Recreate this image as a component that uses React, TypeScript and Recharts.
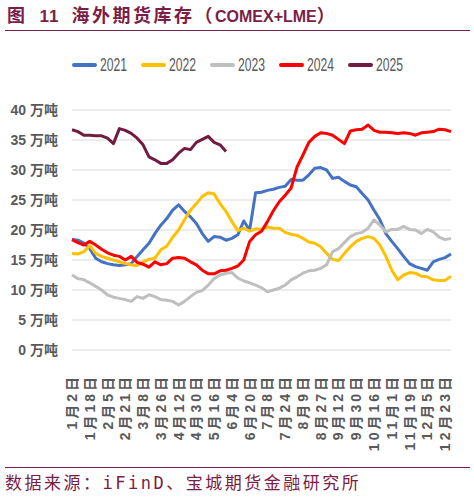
import React from "react";
import { LineChart, Line, XAxis, YAxis, CartesianGrid } from "recharts";

// trading-day buckets (about 3 per label step); only xTicks are printed
const categories = [
  "1月2日", "1月8日", "1月13日", "1月18日", "1月24日", "1月30日", "2月5日", "2月10日", "2月15日",
  "2月21日", "2月26日", "3月3日", "3月8日", "3月14日", "3月20日", "3月26日", "4月1日", "4月6日",
  "4月12日", "4月18日", "4月24日", "4月30日", "5月5日", "5月11日", "5月16日", "5月23日", "5月29日",
  "6月4日", "6月9日", "6月15日", "6月20日", "6月26日", "7月2日", "7月8日", "7月13日", "7月19日",
  "7月24日", "7月29日", "8月4日", "8月9日", "8月15日", "8月21日", "8月27日", "9月1日", "9月7日",
  "9月12日", "9月18日", "9月24日", "9月30日", "10月5日", "10月11日", "10月16日", "10月22日", "10月27日",
  "11月1日", "11月7日", "11月13日", "11月19日", "11月25日", "11月30日", "12月5日", "12月11日", "12月17日",
  "12月23日", "12月29日",
];

const xTicks = [
  "1月2日", "1月18日", "2月5日", "2月21日", "3月8日", "3月26日", "4月12日", "4月30日", "5月16日",
  "6月4日", "6月20日", "7月8日", "7月24日", "8月9日", "8月27日", "9月12日", "9月30日", "10月16日",
  "11月1日", "11月19日", "12月5日", "12月23日",
];

const yTicks = [0, 5, 10, 15, 20, 25, 30, 35, 40];

// 万吨
const s2021 = [
  18.4, 18.3, 17.8, 16.9, 15.3, 14.7, 14.4, 14.2, 14.1, 14.2, 14.4, 15.6, 16.7, 17.8, 19.4, 20.8,
  21.9, 23.3, 24.2, 23.1, 22.2, 21.1, 19.4, 18.1, 18.9, 18.8, 18.3, 18.6, 19.2, 21.5, 20.0, 26.2,
  26.3, 26.6, 26.8, 27.1, 27.3, 28.4, 28.3, 28.3, 29.2, 30.3, 30.4, 30.0, 28.6, 28.8, 28.1, 27.5,
  27.2, 26.1, 25.0, 23.3, 21.7, 19.4, 18.1, 16.9, 15.6, 14.4, 13.9, 13.6, 13.3, 14.7, 15.1, 15.4,
  16.0,
];
const s2022 = [
  16.1, 16.0, 16.4, 17.4, 16.1, 15.6, 15.3, 15.0, 14.7, 14.4, 14.2, 14.1, 14.7, 15.1, 15.3, 16.7,
  17.3, 18.8, 20.0, 21.7, 23.3, 24.4, 25.6, 26.2, 26.0, 24.4, 23.1, 21.4, 19.9, 20.3, 19.8, 20.2,
  20.1, 20.5, 20.3, 20.3, 19.6, 19.3, 19.1, 18.6, 18.0, 17.8, 17.2, 16.1, 15.1, 14.9, 16.1, 17.2,
  18.1, 18.6, 18.9, 18.6, 17.5, 15.6, 13.3, 11.7, 12.5, 12.9, 12.8, 12.3, 12.2, 11.7, 11.6, 11.6,
  12.3,
];
const s2023 = [
  12.5, 11.9, 11.7, 11.2, 10.6, 10.0, 9.2, 8.8, 8.6, 8.4, 8.1, 8.9, 8.6, 9.2, 8.9, 8.4,
  8.3, 8.1, 7.5, 8.1, 8.9, 9.6, 9.9, 10.8, 11.9, 12.5, 12.8, 12.9, 12.0, 11.5, 11.2, 10.8,
  10.4, 9.7, 10.0, 10.3, 10.8, 11.7, 12.2, 12.8, 13.2, 13.3, 13.6, 14.2, 16.4, 16.9, 17.9, 18.9,
  19.4, 19.6, 20.3, 21.7, 20.8, 19.7, 20.1, 20.1, 20.6, 20.1, 20.0, 19.4, 20.1, 19.7, 18.8, 18.4,
  18.6,
];
const s2024 = [
  18.4, 17.9, 17.5, 18.1, 17.5, 16.8, 16.2, 15.8, 15.6, 15.0, 15.6, 14.6, 14.3, 13.8, 14.7, 14.2,
  14.4, 15.3, 15.4, 15.3, 14.7, 14.2, 13.3, 12.7, 12.7, 13.2, 13.3, 13.6, 14.0, 15.0, 18.1, 19.2,
  19.8, 21.4, 23.2, 24.7, 25.8, 27.0, 30.5, 32.5, 34.6, 35.6, 36.2, 36.1, 35.8, 35.1, 34.4, 36.5,
  36.7, 36.8, 37.5, 36.6, 36.3, 36.3, 36.2, 36.1, 36.2, 36.1, 35.8, 36.2, 36.3, 36.4, 36.8, 36.7,
  36.4,
];
const s2025 = [
  36.7, 36.4, 35.8, 35.8, 35.7, 35.7, 35.3, 34.4, 36.9, 36.6, 36.1, 35.3, 34.2, 32.2, 31.7, 31.1,
  31.1, 31.7, 32.8, 33.6, 33.4, 34.6, 35.1, 35.6, 34.6, 34.2, 33.1,
];

const series = [
  { key: "2021", values: s2021, color: "#4472C4" },
  { key: "2022", values: s2022, color: "#FFC000" },
  { key: "2023", values: s2023, color: "#BFBFBF" },
  { key: "2024", values: s2024, color: "#FF0000" },
  { key: "2025", values: s2025, color: "#701C40" },
];

const data = categories.map((date, i) => {
  const row: Record<string, string | number | null> = { date };
  series.forEach(s => {
    row[s.key] = i < s.values.length ? s.values[i] : null;
  });
  return row;
});

const MAROON = "#7A1E46";
const AXIS_GREY = "#595959";
const LATIN = "'Liberation Sans', Arial, sans-serif";
const CJK = "'Noto Sans CJK SC', sans-serif";

function XTick(props: any) {
  const { x, y, payload } = props;
  const ty = y + 16;
  return (
    <text
      x={x}
      y={ty}
      transform={`rotate(-90, ${x}, ${ty})`}
      textAnchor="end"
      dominantBaseline="central"
      fill={AXIS_GREY}
      fontSize={14}
      fontWeight="bold"
      letterSpacing={3}
      fontFamily={`'Liberation Sans', 'Noto Sans CJK SC', sans-serif`}
    >
      {payload.value}
    </text>
  );
}

function YTick(props: any) {
  const { x, y, payload } = props;
  return (
    <text
      x={x - 6}
      y={y}
      textAnchor="end"
      dominantBaseline="central"
      fill={AXIS_GREY}
      fontSize={14}
      fontWeight="bold"
      fontFamily={`'Liberation Sans', 'Noto Sans CJK SC', sans-serif`}
    >
      {payload.value} 万吨
    </text>
  );
}

// condensed legend text, like the narrow font in the source
function LegendRow() {
  return (
    <div
      style={{
        position: "absolute",
        top: 55,
        left: 0,
        width: 474,
        display: "flex",
        justifyContent: "center",
        gap: 14,
      }}
    >
      {series.map(s => (
        <div key={s.key} style={{ display: "flex", alignItems: "center" }}>
          <div style={{ width: 25, height: 4, borderRadius: 2, background: s.color, marginRight: 3 }} />
          <span style={{ display: "inline-block", width: 27, height: 20, overflow: "visible", whiteSpace: "nowrap" }}>
            <span
              style={{
                display: "inline-block",
                fontFamily: LATIN,
                fontSize: 19,
                color: AXIS_GREY,
                lineHeight: "20px",
                transform: "scaleX(0.64)",
                transformOrigin: "left center",
              }}
            >
              {s.key}
            </span>
          </span>
        </div>
      ))}
    </div>
  );
}

export default function App() {
  return (
    <div style={{ position: "absolute", left: 0, top: 0, width: 474, height: 498, background: "#fff" }}>
      <div
        style={{
          position: "absolute",
          top: 3,
          left: 7,
          color: MAROON,
          fontWeight: "bold",
          fontFamily: CJK,
          fontSize: 18,
          letterSpacing: 2.5,
          whiteSpace: "nowrap",
          lineHeight: "22px",
        }}
      >
        图<span style={{ fontFamily: LATIN, fontSize: 17, letterSpacing: 1, marginLeft: 12, marginRight: 12 }}>11</span>
        海外期货库存（<span style={{ fontFamily: LATIN, fontSize: 16, letterSpacing: 0 }}>COMEX+LME</span>）
      </div>
      <div style={{ position: "absolute", top: 30, left: 5, width: 465, height: 1, background: MAROON }} />

      <LegendRow />

      <div style={{ position: "absolute", top: 0, left: 0 }}>
        <LineChart width={474} height={460} data={data} margin={{ top: 110, right: 23, bottom: 10, left: 0 }}>
          <CartesianGrid horizontal vertical={false} stroke="#D9D9D9" strokeWidth={1.2} />
          <XAxis
            dataKey="date"
            ticks={xTicks}
            interval={0}
            axisLine={false}
            tickLine={false}
            height={100}
            tick={<XTick />}
          />
          <YAxis
            domain={[0, 40]}
            ticks={yTicks}
            interval={0}
            axisLine={false}
            tickLine={false}
            width={72}
            tick={<YTick />}
          />
          {series.map(s => (
            <Line
              key={s.key}
              type="linear"
              dataKey={s.key}
              stroke={s.color}
              strokeWidth={3}
              strokeLinejoin="round"
              dot={false}
              activeDot={false}
              connectNulls={false}
              isAnimationActive={false}
            />
          ))}
        </LineChart>
      </div>

      <div style={{ position: "absolute", top: 467, left: 5, width: 465, height: 1, background: MAROON }} />
      <div
        style={{
          position: "absolute",
          top: 471,
          left: 5,
          color: MAROON,
          fontFamily: CJK,
          fontSize: 17,
          letterSpacing: 2.5,
          whiteSpace: "nowrap",
          lineHeight: "22px",
        }}
      >
        数据来源：<span style={{ fontFamily: "'DejaVu Sans Mono', monospace", fontSize: 17 }}>iFinD</span>、宝城期货金融研究所
      </div>
    </div>
  );
}
